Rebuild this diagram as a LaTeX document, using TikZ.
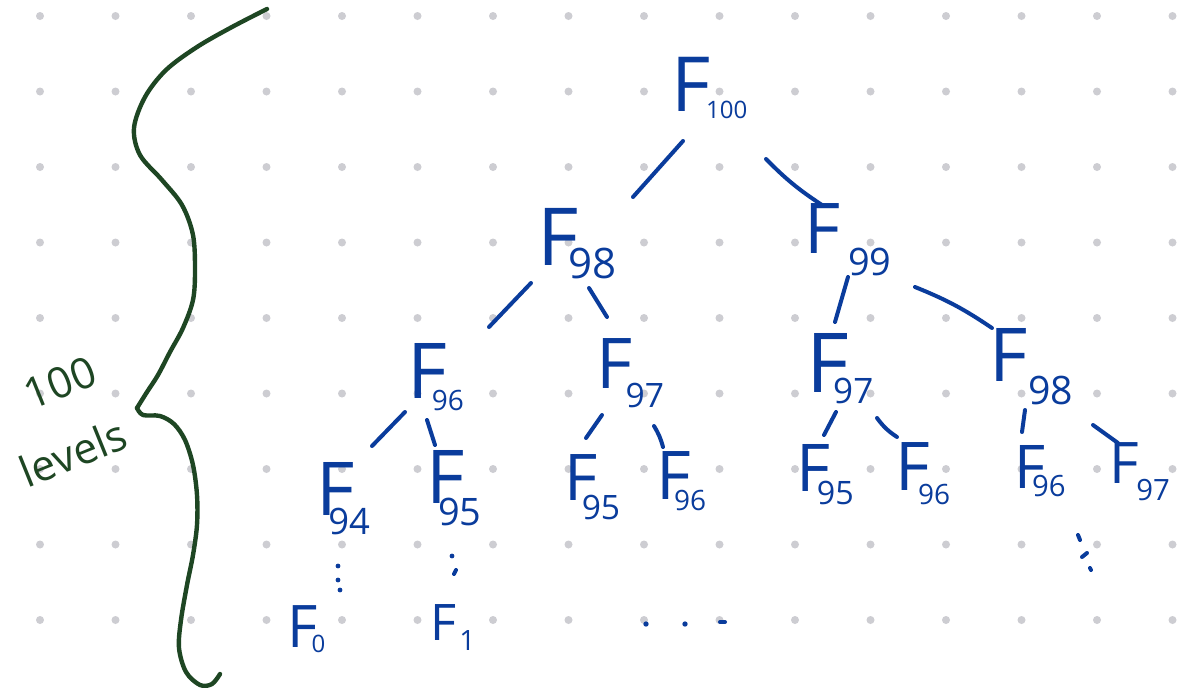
\documentclass[tikz,border=0pt]{standalone}
\usepackage{fontspec}
\setmainfont{Open Sans}
\usetikzlibrary{calc}
\definecolor{inkblue}{HTML}{0A3C9C}
\definecolor{inkgreen}{HTML}{1E4623}
\definecolor{dotgray}{HTML}{CDCDD2}
% F size, sub size, kern, drop, subscript
\newcommand\Fsub[5]{\fontsize{#1}{#1}\selectfont F\kern#3pt\raisebox{-#4pt}{\fontsize{#2}{#2}\selectfont #5}}
\begin{document}
\begin{tikzpicture}[x=0.75pt,y=-0.75pt,
  fnode/.style={inner sep=0pt,outer sep=0pt,anchor=base west,text=inkblue},
  edge/.style={draw=inkblue,line width=3pt,line cap=round},
  inkstroke/.style={draw=inkblue,line width=3pt,line cap=round},
  brace/.style={draw=inkgreen,line width=3.3pt,line cap=round,line join=round},
  gtext/.style={text=inkgreen,inner sep=0pt,rotate=22,font=\fontsize{32}{32}\selectfont}]
\useasboundingbox (0,0) rectangle (1182,687);
\fill[white] (0,0) rectangle (1182,687);
% dot grid
\foreach \i in {0,...,15}{
  \foreach \j in {0,...,8}{
    \fill[dotgray] ({40+75.5*\i},{16+75.5*\j}) circle (3pt);
  }
}
% nodes
\node[fnode] (n100) at (671,111) {\Fsub{57}{18}{-3}{5.25}{100}};
\node[fnode] (n98a) at (537,265) {\Fsub{60}{31.5}{-7.2}{9.75}{98}};
\node[fnode] (n99)  at (804,253) {\Fsub{52.5}{28.4}{6}{16.5}{99}};
\node[fnode] (n96a) at (407,398) {\Fsub{57.8}{21}{-11.2}{9}{96}};
\node[fnode] (n97a) at (596,388) {\Fsub{52.5}{25.2}{-4.9}{14.25}{97}};
\node[fnode] (n97b) at (806,392) {\Fsub{62}{26.3}{-11.6}{8.25}{97}};
\node[fnode] (n98b) at (989,381) {\Fsub{55.7}{29.4}{0.6}{17.25}{98}};
\node[fnode] (n94)  at (316,515) {\Fsub{55.7}{27.3}{-19.5}{14.25}{94}};
\node[fnode] (n95a) at (426,503) {\Fsub{55.7}{28.4}{-19.5}{16.5}{95}};
\node[fnode] (n95b) at (564,500) {\Fsub{48.3}{25.2}{-11.6}{14.25}{95}};
\node[fnode] (n96b) at (656,499) {\Fsub{50.4}{21}{-12.4}{8.25}{96}};
\node[fnode] (n95c) at (796,491) {\Fsub{49.4}{24.2}{-9.85}{9.75}{95}};
\node[fnode] (n96c) at (895,490) {\Fsub{50.4}{21}{-8.65}{10.5}{96}};
\node[fnode] (n96d) at (1014,488) {\Fsub{45.2}{22}{-9.7}{6}{96}};
\node[fnode] (n97d) at (1109,483) {\Fsub{43}{22}{-1.75}{12.75}{97}};
\node[fnode] (n0)   at (287,647) {\Fsub{44}{18}{-4.2}{3.75}{0}};
\node[fnode] (n1)   at (430,640) {\Fsub{37.8}{21}{2.5}{7.5}{1}};
% edges
\draw[edge] ($(n100.base west)+(12,30)$) -- ($(n98a.base west)+(96,-68)$);
\draw[edge] ($(n100.base west)+(95,48)$) to[bend right=6] ($(n99.base west)+(18,-48)$);
\draw[edge] ($(n98a.base west)+(-6,18)$) -- ($(n96a.base west)+(82,-71)$);
\draw[edge] ($(n98a.base west)+(52,23)$) -- ($(n97a.base west)+(11,-71)$);
\draw[edge] ($(n99.base west)+(44,24)$) -- ($(n97b.base west)+(29,-70)$);
\draw[edge] ($(n99.base west)+(111,34)$) to[bend left=6] ($(n98b.base west)+(3,-53)$);
\draw[edge] ($(n96a.base west)+(-2,14)$) -- ($(n94.base west)+(56,-69)$);
\draw[edge] ($(n96a.base west)+(20,22)$) -- ($(n95a.base west)+(9,-58)$);
\draw[edge] ($(n97a.base west)+(6,27)$) -- ($(n95b.base west)+(22,-62)$);
\draw[edge] ($(n97a.base west)+(58,38)$) to[bend left=8] ($(n96b.base west)+(7,-52)$);
\draw[edge] ($(n97b.base west)+(30,20)$) -- ($(n95c.base west)+(28,-56)$);
\draw[edge] ($(n97b.base west)+(71,26)$) to[bend right=10] ($(n96c.base west)+(2,-53)$);
\draw[edge] ($(n98b.base west)+(36,29)$) -- ($(n96d.base west)+(8,-56)$);
\draw[edge] ($(n98b.base west)+(104,44)$) -- ($(n97d.base west)+(9,-40)$);
% continuation marks
\fill[inkblue] (338,566) circle (1.8pt);
\fill[inkblue] (338,580) circle (1.8pt);
\fill[inkblue] (340,590) circle (1.8pt);
\fill[inkblue] (452,556) circle (1.8pt);
\draw[inkstroke] (456,570) -- (454,574);
\draw[inkstroke] (1078,535) -- (1080,540);
\draw[inkstroke] (1082,557) -- (1087,553);
\draw[inkstroke] (1090,568) -- (1091,570);
\fill[inkblue] (646,624) circle (2pt);
\fill[inkblue] (685,624) circle (2pt);
\draw[inkstroke] (720,622) -- (725,622);
% brace
\draw[brace] plot[smooth,tension=0.55] coordinates {(267,9) (232,27) (197,47) (166,70) (145,97) (134,128) (140,155) (162,180) (182,205) (193,235) (195,270) (193,300) (183,328) (170,352) (158,375) (147,392) (137,408)};
\draw[brace] plot[smooth,tension=0.55] coordinates {(137,408) (143,415) (160,416) (174,424) (185,440) (193,465) (197,495) (197,525) (193,555) (187,585) (181,620) (179,648) (186,672) (200,685) (212,684) (220,674)};
% label
\node[gtext] (lab1) at (60,383) {100};
\node[gtext] (lab2) at (73,453) {levels};
\end{tikzpicture}
\end{document}
